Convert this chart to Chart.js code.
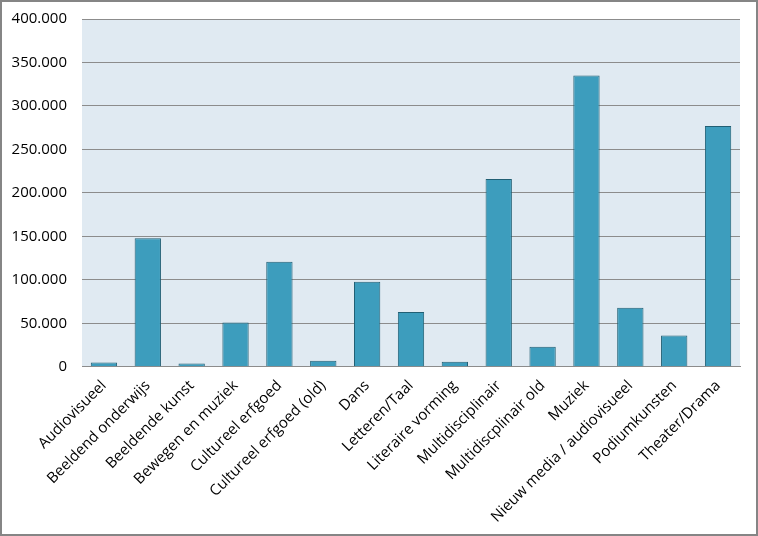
<!DOCTYPE html>
<html>
<head>
<meta charset="utf-8">
<script src="https://cdn.jsdelivr.net/npm/chart.js@4"></script>
<style>
  body { margin: 0; background: #fff; }
  #wrap { width: 754px; height: 532px; border: 2px solid #858585; background: #fff; }
</style>
</head>
<body>
<div id="wrap"><canvas id="myChart" width="754" height="532"></canvas></div>
<script>
// categories and values
const categories = [
    'Audiovisueel', 'Beeldend onderwijs', 'Beeldende kunst', 'Bewegen en muziek',
    'Cultureel erfgoed', 'Cultureel erfgoed (old)', 'Dans', 'Letteren/Taal',
    'Literaire vorming', 'Multidisciplinair', 'Multidiscplinair old', 'Muziek',
    'Nieuw media / audiovisueel', 'Podiumkunsten', 'Theater/Drama'
];
const totals = [5000, 148000, 4000, 51000, 121000, 7000, 98000, 63000,
    6000, 216000, 23000, 335000, 68000, 36000, 277000];
const yTicks = [0, 50000, 100000, 150000, 200000, 250000, 300000, 350000, 400000];

const plotBg = {
    id: 'plotBg',
    beforeDraw(chart) {
        const a = chart.chartArea;
        const c = chart.ctx;
        c.save();
        c.fillStyle = '#e0eaf2';
        c.fillRect(a.left, a.top, a.right - a.left, a.bottom - a.top);
        c.restore();
    }
};

const ctx = document.getElementById('myChart');

var chart = new Chart(ctx, {
    type: 'bar',
    data: {
        labels: categories,
        datasets: [{
            label: 'Totaal',
            data: totals,
            backgroundColor: '#3d9dbd',
            borderColor: '#215f74',
            borderWidth: 1,
            categoryPercentage: 1,
            barPercentage: 0.6
        }]
    },
    options: {
        responsive: false,
        animation: false,
        layout: { autoPadding: false, padding: { top: 17, right: 16, left: 0, bottom: 6 } },
        plugins: {
            legend: { display: false },
            tooltip: { enabled: false }
        },
        scales: {
            x: {
                grid: { display: false },
                border: { color: '#8c8c8c', width: 1 },
                ticks: {
                    color: '#000',
                    maxRotation: 45,
                    minRotation: 45,
                    autoSkip: false,
                    padding: 2,
                    font: { family: 'Open Sans', size: 15 }
                }
            },
            y: {
                min: 0,
                max: 400000,
                afterBuildTicks(axis) {
                    axis.ticks = yTicks.map(v => ({ value: v }));
                },
                afterFit(axis) {
                    axis.width = 80;
                    axis.paddingTop = 0;
                    axis.paddingBottom = 0;
                },
                grid: { color: '#8c8c8c', drawTicks: false },
                border: { display: false },
                ticks: {
                    color: '#000',
                    padding: 15,
                    font: { family: 'Open Sans', size: 15 },
                    callback: v => v.toLocaleString('nl-NL')
                }
            }
        }
    },
    plugins: [plotBg]
});
</script>
</body>
</html>
